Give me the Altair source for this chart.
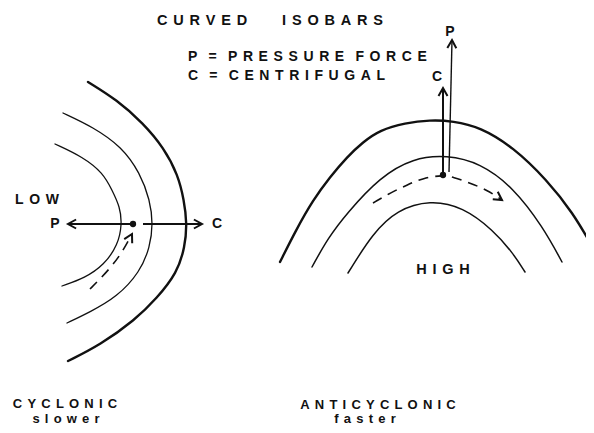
import math
import altair as alt
import pandas as pd

# ---- isobar curves (positions, pixel space) ----
low_outer_x = [88, 117, 143, 164, 178, 184, 187, 185, 177, 157, 135, 100, 68]
low_outer_y = [82, 100, 123, 148, 175, 200, 223, 247, 273, 298, 320, 345, 361]
low_mid_x = [63, 93, 122, 140, 150, 153, 150, 140, 117, 90, 67]
low_mid_y = [113, 127, 147, 173, 200, 224, 247, 272, 297, 312, 323]
low_inner_x = [55, 83, 103, 112, 120, 122, 118, 104, 85, 62]
low_inner_y = [144, 157, 173, 190, 207, 224, 245, 265, 278, 286]

high_outer_x = [280, 296, 313, 330, 347, 363, 380, 405, 430, 453, 480, 513, 547, 573, 592]
high_outer_y = [262, 230, 200, 177, 157, 142, 130, 123, 120, 121, 127, 147, 180, 213, 246]
high_mid_x = [312, 328, 347, 380, 413, 447, 480, 513, 543, 562]
high_mid_y = [267, 238, 213, 177, 158, 155, 163, 187, 227, 262]
high_inner_x = [348, 373, 397, 430, 463, 493, 513, 525]
high_inner_y = [273, 233, 210, 200, 207, 230, 253, 272]

curve_widths = [2.4, 1.3, 1.3, 2.4, 1.5, 1.5]

# ---- dashed wind paths ----
low_wind_x = [90, 100, 112, 123, 132]
low_wind_y = [289, 279, 266, 251, 234]
high_wind_x = [373, 390, 407, 423, 443, 453, 470, 487, 502]
high_wind_y = [203, 193, 185, 178, 175, 177, 183, 190, 200]

# ---- force arrows (start -> tip) ----
arrow_x = [130, 143, 443, 449]
arrow_y = [224, 224, 175, 172]
arrow_x2 = [68, 202, 443, 452]
arrow_y2 = [224, 224, 88, 40]
arrow_w = [1.9, 1.9, 2.0, 1.4]

# ---- parcels ----
dot_x = [133, 443]
dot_y = [224, 175]

# ---- labels ----
left_labels = ["CURVED     ISOBARS", "P = PRESSURE FORCE", "C = CENTRIFUGAL"]
left_x = [157, 188, 188]
left_y = [21, 57, 76]
left_size = [14.5, 14, 14]

center_labels = ["LOW", "HIGH", "CYCLONIC", "slower", "ANTICYCLONIC", "faster",
                 "P", "C", "C", "P"]
center_x = [37, 443, 65, 66, 378, 365, 55, 217, 437, 450]
center_y = [200, 270, 404, 419, 405, 419, 224, 224, 77, 32]
center_size = [14, 14.5, 13, 13, 13, 13, 14, 14, 14, 14]

GAP = "\u2009\u2009"


def spaced(s):
    return GAP.join("" if ch == " " else ch for ch in s)


rows = []
curves = [(low_outer_x, low_outer_y), (low_mid_x, low_mid_y), (low_inner_x, low_inner_y),
          (high_outer_x, high_outer_y), (high_mid_x, high_mid_y), (high_inner_x, high_inner_y)]
for ci, (xs, ys) in enumerate(curves):
    for i, (a, b) in enumerate(zip(xs, ys)):
        rows.append({"curve": ci, "i": i, "x": a, "y": b, "w": curve_widths[ci]})
curve_df = pd.DataFrame(rows)

wrows = []
for wi, (xs, ys) in enumerate([(low_wind_x, low_wind_y), (high_wind_x, high_wind_y)]):
    for i, (a, b) in enumerate(zip(xs, ys)):
        wrows.append({"path": wi, "i": i, "x": a, "y": b})
wind_df = pd.DataFrame(wrows)

arrow_df = pd.DataFrame({"x": arrow_x, "y": arrow_y, "x2": arrow_x2, "y2": arrow_y2,
                         "w": arrow_w})


def ang(x1, y1, x2, y2):
    return math.degrees(math.atan2(x2 - x1, -(y2 - y1))) % 360


heads = []
for a, b, c, d in zip(arrow_x, arrow_y, arrow_x2, arrow_y2):
    heads.append({"x": c, "y": d, "a": ang(a, b, c, d)})
for xs, ys in [(low_wind_x, low_wind_y), (high_wind_x, high_wind_y)]:
    heads.append({"x": xs[-1], "y": ys[-1], "a": ang(xs[-2], ys[-2], xs[-1], ys[-1])})
head_df = pd.DataFrame(heads)

dot_df = pd.DataFrame({"x": dot_x, "y": dot_y})
left_df = pd.DataFrame({"t": [spaced(s) for s in left_labels], "x": left_x, "y": left_y,
                        "s": left_size})
center_df = pd.DataFrame({"t": [spaced(s) for s in center_labels], "x": center_x,
                          "y": center_y, "s": center_size})

X = alt.X("x:Q", scale=alt.Scale(domain=[8, 586], nice=False, zero=False), axis=None)
Y = alt.Y("y:Q", scale=alt.Scale(domain=[8, 425], nice=False, zero=False, reverse=True),
          axis=None)
INK = "#111111"

curves_layer = alt.Chart(curve_df).mark_line(
    interpolate="basis", color=INK, strokeCap="round"
).encode(x=X, y=Y, detail="curve:N", order="i:Q",
         strokeWidth=alt.StrokeWidth("w:Q", scale=None))

wind_layer = alt.Chart(wind_df).mark_line(
    interpolate="basis", color=INK, strokeWidth=1.6, strokeDash=[10, 7]
).encode(x=X, y=Y, detail="path:N", order="i:Q")

arrow_layer = alt.Chart(arrow_df).mark_rule(color=INK).encode(
    x=X, y=Y, x2="x2:Q", y2="y2:Q", strokeWidth=alt.StrokeWidth("w:Q", scale=None))

head_layer = alt.Chart(head_df).mark_point(
    shape="M-1,1.8L0,0L1,1.8", filled=False, color=INK, strokeWidth=2,
    size=81, opacity=1, strokeJoin="miter"
).encode(x=X, y=Y, angle=alt.Angle("a:Q", scale=None))

dot_layer = alt.Chart(dot_df).mark_point(
    shape="circle", filled=True, color=INK, size=40, opacity=1
).encode(x=X, y=Y)

left_layer = alt.Chart(left_df).mark_text(
    align="left", baseline="middle", font="Liberation Sans", fontWeight="bold", color=INK
).encode(x=X, y=Y, text="t:N", size=alt.Size("s:Q", scale=None))

center_layer = alt.Chart(center_df).mark_text(
    align="center", baseline="middle", font="Liberation Sans", fontWeight="bold", color=INK
).encode(x=X, y=Y, text="t:N", size=alt.Size("s:Q", scale=None))

chart = alt.layer(
    curves_layer, wind_layer, arrow_layer, head_layer, dot_layer, left_layer, center_layer
).properties(width=578, height=417, padding=0, autosize="none").configure_view(stroke=None)

chart.save("out.html", embed_options={"renderer": "svg", "actions": False})
